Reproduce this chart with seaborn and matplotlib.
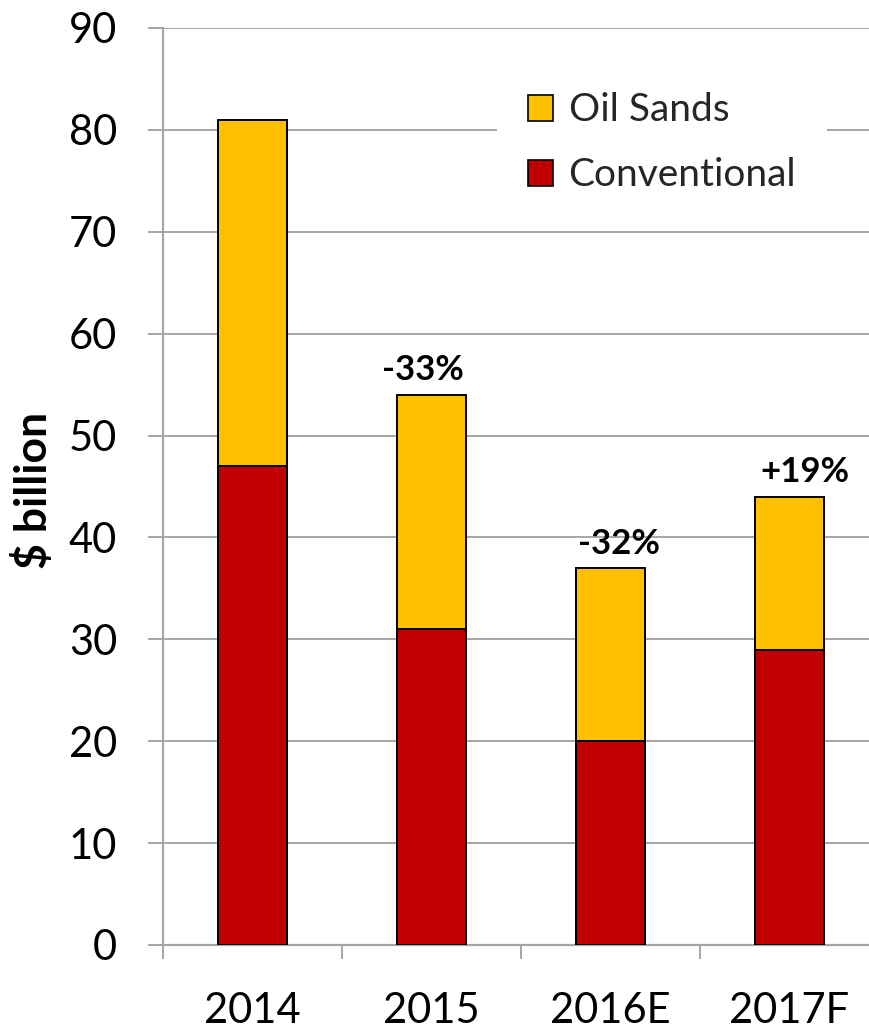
import matplotlib
matplotlib.use("Agg")
import matplotlib.pyplot as plt
from matplotlib.patches import Patch
from matplotlib.ticker import FixedLocator
import seaborn as sns
import pandas as pd

# Capital spending by year, $ billion
years = ["2014", "2015", "2016E", "2017F"]
conventional = [47, 31, 20, 29]
oil_sands = [34, 23, 17, 15]
change_labels = ["", "-33%", "-32%", "+19%"]

totals = [c + o for c, o in zip(conventional, oil_sands)]
df = pd.DataFrame({"year": years, "conventional": conventional,
                   "oil_sands": oil_sands, "total": totals})

sns.set_theme(style="white")
plt.rcParams["font.family"] = ["Lato", "DejaVu Sans"]

YELLOW = "#FFC000"
RED = "#C00000"
GRID = "#A6A6A6"

fig = plt.figure(figsize=(8.7, 10.29), dpi=100)
ax = fig.add_axes([163 / 870, 84 / 1029, 716 / 870, 917 / 1029])

bar_kw = dict(width=0.39, edgecolor="black", linewidth=1.4, ax=ax, zorder=3)
# full stack height first (oil sands on top), conventional drawn over it
sns.barplot(data=df, x="year", y="total", color=YELLOW, saturation=1, **bar_kw)
sns.barplot(data=df, x="year", y="conventional", color=RED, saturation=1, **bar_kw)

ax.set_xlim(-0.5, 3.5)
ax.set_ylim(0, 90)
ax.set_yticks(range(0, 91, 10))
ax.yaxis.grid(True, color=GRID, linewidth=1.4, zorder=0)
ax.set_axisbelow(True)

for side in ("top", "right"):
    ax.spines[side].set_visible(False)
for side in ("left", "bottom"):
    ax.spines[side].set_color(GRID)
    ax.spines[side].set_linewidth(1.6)

ax.tick_params(axis="y", which="major", length=11, width=1.4, color=GRID,
               direction="out", left=True, pad=22, labelsize=30, labelcolor="black")
ax.tick_params(axis="x", which="major", length=0, pad=34, labelsize=30,
               labelcolor="black")
ax.xaxis.set_minor_locator(FixedLocator([-0.5, 0.5, 1.5, 2.5, 3.5]))
ax.tick_params(axis="x", which="minor", length=10, width=1.4, color=GRID,
               direction="out", bottom=True)

ax.set_xlabel("")
ax.set_ylabel("$ billion", fontsize=32, fontweight="bold", color="black")
ax.yaxis.set_label_coords(-0.152, 0.496)

# year-over-year change above each stack
label_shift = [0, -6, 6, 11]
for i, (tot, txt) in enumerate(zip(totals, change_labels)):
    if txt:
        ax.annotate(txt, xy=(i, tot), xytext=(label_shift[i], 6),
                    textcoords="offset points", ha="center", va="bottom",
                    fontsize=25, fontweight="bold", color="black")

handles = [Patch(facecolor=YELLOW, edgecolor="black", linewidth=1.2, label="Oil Sands"),
           Patch(facecolor=RED, edgecolor="black", linewidth=1.2, label="Conventional")]
leg = ax.legend(handles=handles, loc="upper right", bbox_to_anchor=(0.955, 0.985),
                fontsize=28, frameon=True, fancybox=False, framealpha=1,
                edgecolor="white", handlelength=0.65, handleheight=0.65,
                handletextpad=0.4, labelspacing=0.75, borderpad=0.8)
leg.get_frame().set_linewidth(0)

fig.savefig("out.png", dpi=100)
